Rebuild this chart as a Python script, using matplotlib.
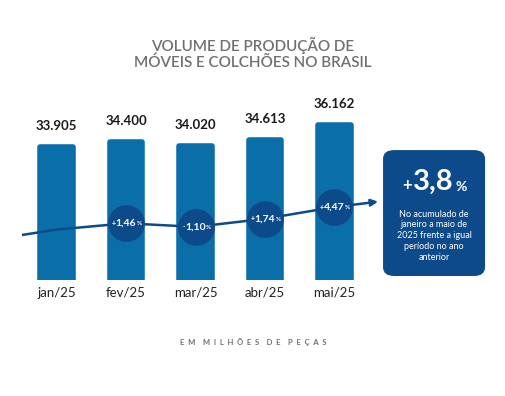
#!/usr/bin/env python3
# volume de producao - moveis e colchoes

import matplotlib
matplotlib.use("Agg")
import matplotlib.pyplot as plt
from matplotlib.patches import FancyBboxPatch

plt.rcParams["font.family"] = ["Lato", "DejaVu Sans"]

# ----------------------------
# data
# ----------------------------
months = ["jan/25", "fev/25", "mar/25", "abr/25", "mai/25"]
volume = [33905, 34400, 34020, 34613, 36162]
volume_labels = ["33.905", "34.400", "34.020", "34.613", "36.162"]

# variation vs. same month of 2024 (no value shown for jan)
pct_months = [1, 2, 3, 4]
pct_signs = ["+", "-", "+", "+"]
pct_values = ["1,46", "1,10", "1,74", "4,47"]

# decorative trend line (index scale 0..100 on twin axis)
trend_x = [-0.5, 0, 1, 2, 3, 4, 4.63]
trend_y = [25.0, 28.0, 31.5, 29.5, 34.0, 40.5, 43.5]
trend_circle_y = [31.5, 29.5, 34.0, 40.5]

accum_value = "3,8"
accum_text = "No acumulado de\njaneiro a maio de\n2025 frente a igual\nperíodo no ano\nanterior"
unit_text = "EM MILHÕES DE PEÇAS"

BAR = "#0a6fa8"
DARK = "#0d4a8a"
GRAY = "#707070"

fig = plt.figure(figsize=(5.06, 3.96), dpi=100)
ax = fig.add_axes([0.0435, 0.293, 0.7036, 0.4545])
ax.set_xlim(-0.5, 4.63)
ax.set_ylim(20000, 38810)
ax.axis("off")

# bars (rounded top corners from a round-joined outline, bottom clipped by axes)
ax.bar(range(len(months)), volume, width=0.47, bottom=0, color=BAR,
       edgecolor=BAR, linewidth=4, joinstyle="round", clip_on=True, zorder=2)

for i, (v, lab) in enumerate(zip(volume, volume_labels)):
    ax.annotate(lab, (i, v), xytext=(0, 11), textcoords="offset points",
                ha="center", va="bottom", fontsize=9.5, fontweight="bold",
                color="#1a1a1a")

for i, m in enumerate(months):
    ax.annotate(m, (i, 20000), xytext=(0, -5), textcoords="offset points",
                ha="center", va="top", fontsize=9.5, color="#222222",
                annotation_clip=False)

# trend line + circles
ax2 = ax.twinx()
ax2.set_ylim(0, 100)
ax2.axis("off")
ax2.plot(trend_x[:-1], trend_y[:-1], color=DARK, lw=1.8, zorder=3,
         solid_capstyle="butt", clip_on=False)
ax2.annotate("", xy=(trend_x[-1], trend_y[-1]), xytext=(trend_x[-2], trend_y[-2]),
             arrowprops=dict(arrowstyle="-|>", color=DARK, lw=1.8,
                             mutation_scale=10, shrinkA=0, shrinkB=0),
             annotation_clip=False, zorder=3)
ax2.scatter(pct_months, trend_circle_y, s=700, color=DARK, zorder=4,
            linewidths=0)
for x, y, s, p in zip(pct_months, trend_circle_y, pct_signs, pct_values):
    ax2.text(x, y, p, ha="center", va="center", fontsize=7.5,
             fontweight="bold", color="white", zorder=5)
    ax2.annotate(s, (x, y), xytext=(-7.3, 0), textcoords="offset points",
                 ha="right", va="center", fontsize=5, fontweight="bold",
                 color="white", zorder=5)
    ax2.annotate("%", (x, y), xytext=(7.6, -0.5), textcoords="offset points",
                 ha="left", va="center", fontsize=4.5, fontweight="bold",
                 color="white", zorder=5)

# titles
fig.text(0.5, 0.886, "VOLUME DE PRODUÇÃO DE", ha="center", va="center",
         fontsize=11, color=GRAY, fontweight="semibold")
fig.text(0.5, 0.841, "MÓVEIS E COLCHÕES NO BRASIL", ha="center", va="center",
         fontsize=11, color=GRAY, fontweight="semibold")
spaced = "    ".join("  ".join(w) for w in unit_text.split(" "))
fig.text(0.5, 0.137, spaced, ha="center", va="center", fontsize=5.5,
         fontweight="bold", color=GRAY)

# accumulated box
box = FancyBboxPatch((0.757, 0.303), 0.2016, 0.318,
                     boxstyle="round,pad=0.0,rounding_size=0.022",
                     transform=fig.transFigure, facecolor=DARK,
                     edgecolor="none")
fig.add_artist(box)
fig.text(0.856, 0.54, accum_value, ha="center", va="center", fontsize=21,
         fontweight="bold", color="white")
fig.text(0.813, 0.532, "+", ha="right", va="center", fontsize=12,
         fontweight="bold", color="white")
fig.text(0.900, 0.528, "%", ha="left", va="center", fontsize=10,
         fontweight="bold", color="white")
fig.text(0.858, 0.405, accum_text, ha="center", va="center", fontsize=6.5,
         color="white", linespacing=1.25)

fig.savefig("out.png", dpi=100)
